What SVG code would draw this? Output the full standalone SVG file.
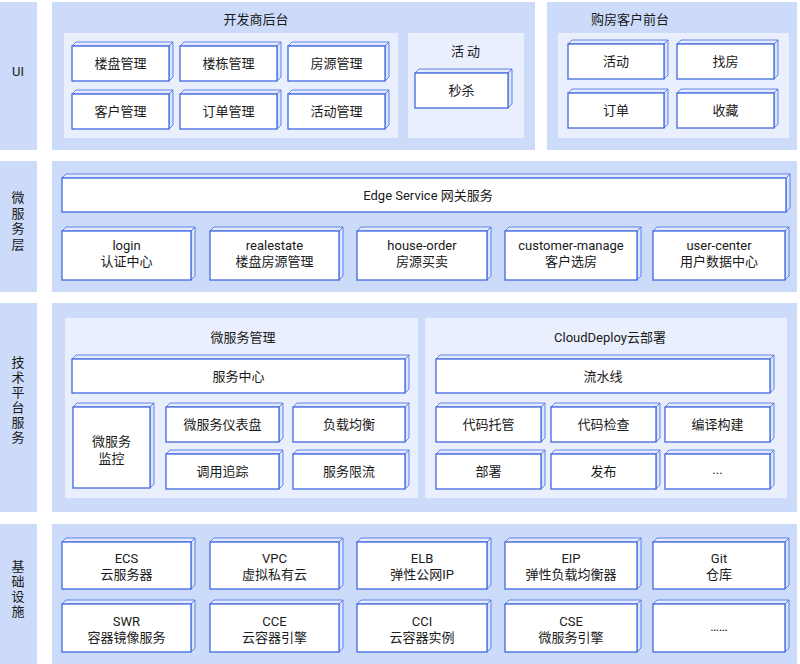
<svg xmlns="http://www.w3.org/2000/svg" width="800" height="664" viewBox="0 0 800 664">
<defs>
<style>
.band{fill:#ccdbf9}
.panel{fill:#e9effd}
.front{fill:#ffffff;stroke:#4169e1;stroke-width:1.3}
.top{fill:#e4ebfd;stroke:#4169e1;stroke-width:0.8}
.side{fill:#dbe5fc;stroke:#4169e1;stroke-width:0.8}
text{font-family:Roboto,"Noto Sans CJK SC",sans-serif;font-size:13px;font-weight:400;fill:#1a1a1a;text-anchor:middle;dominant-baseline:central}
.vt{font-family:"Noto Sans CJK SC",sans-serif;writing-mode:vertical-rl;letter-spacing:2px}
</style>
</defs>
<rect width="800" height="664" fill="#ffffff"/>

<g id="layers">
<rect class="band" x="0" y="2" width="37" height="148"/>
<rect class="band" x="52" y="2" width="483" height="148"/>
<rect class="band" x="547" y="2" width="250" height="148"/>
<rect class="band" x="0" y="161" width="37" height="131"/>
<rect class="band" x="52" y="161" width="745" height="131"/>
<rect class="band" x="0" y="303" width="37" height="209"/>
<rect class="band" x="52" y="303" width="745" height="209"/>
<rect class="band" x="0" y="524" width="37" height="140"/>
<rect class="band" x="52" y="524" width="745" height="140"/>
<rect class="panel" x="64" y="33" width="334" height="105"/>
<rect class="panel" x="408" y="33" width="116" height="105"/>
<rect class="panel" x="558" y="33" width="231" height="105"/>
<rect class="panel" x="65" y="318" width="353" height="180"/>
<rect class="panel" x="425" y="318" width="362" height="180"/>
</g>

<g id="labels">
<text x="18" y="71">UI</text>
<text class="vt" x="18" y="222" style="letter-spacing:2.7px">微服务层</text>
<text class="vt" x="18" y="401">技术平台服务</text>
<text class="vt" x="18" y="590">基础设施</text>
<text x="256" y="19">开发商后台</text>
<text x="467" y="51" letter-spacing="3">活动</text>
<text x="630" y="19">购房客户前台</text>
<text x="243" y="337">微服务管理</text>
<text x="610" y="337">CloudDeploy云部署</text>
</g>

<g id="connectors"></g>

<g id="n-loupan"><polygon class="top" points="72,46 76,42 173,42 169,46"/><polygon class="side" points="169,46 173,42 173,77 169,81"/><rect class="front" x="72" y="46" width="97" height="35"/><text x="120.5" y="63.5">楼盘管理</text></g>
<g id="n-loudong"><polygon class="top" points="180,46 184,42 281,42 277,46"/><polygon class="side" points="277,46 281,42 281,77 277,81"/><rect class="front" x="180" y="46" width="97" height="35"/><text x="228.5" y="63.5">楼栋管理</text></g>
<g id="n-fangyuan"><polygon class="top" points="288,46 292,42 389,42 385,46"/><polygon class="side" points="385,46 389,42 389,77 385,81"/><rect class="front" x="288" y="46" width="97" height="35"/><text x="336.5" y="63.5">房源管理</text></g>
<g id="n-kehu"><polygon class="top" points="72,94 76,90 173,90 169,94"/><polygon class="side" points="169,94 173,90 173,125 169,129"/><rect class="front" x="72" y="94" width="97" height="35"/><text x="120.5" y="111.5">客户管理</text></g>
<g id="n-dingdan"><polygon class="top" points="180,94 184,90 281,90 277,94"/><polygon class="side" points="277,94 281,90 281,125 277,129"/><rect class="front" x="180" y="94" width="97" height="35"/><text x="228.5" y="111.5">订单管理</text></g>
<g id="n-huodong"><polygon class="top" points="288,94 292,90 389,90 385,94"/><polygon class="side" points="385,94 389,90 389,125 385,129"/><rect class="front" x="288" y="94" width="97" height="35"/><text x="336.5" y="111.5">活动管理</text></g>
<g id="n-miaosha"><polygon class="top" points="415,73 419,69 512,69 508,73"/><polygon class="side" points="508,73 512,69 512,104 508,108"/><rect class="front" x="415" y="73" width="93" height="35"/><text x="461.5" y="90.5">秒杀</text></g>
<g id="n-c-huodong"><polygon class="top" points="568,44 572,40 668,40 664,44"/><polygon class="side" points="664,44 668,40 668,75 664,79"/><rect class="front" x="568" y="44" width="96" height="35"/><text x="616" y="61.5">活动</text></g>
<g id="n-zhaofang"><polygon class="top" points="677,44 681,40 778,40 774,44"/><polygon class="side" points="774,44 778,40 778,75 774,79"/><rect class="front" x="677" y="44" width="97" height="35"/><text x="725.5" y="61.5">找房</text></g>
<g id="n-c-dingdan"><polygon class="top" points="568,93 572,89 668,89 664,93"/><polygon class="side" points="664,93 668,89 668,124 664,128"/><rect class="front" x="568" y="93" width="96" height="35"/><text x="616" y="110.5">订单</text></g>
<g id="n-shoucang"><polygon class="top" points="677,93 681,89 778,89 774,93"/><polygon class="side" points="774,93 778,89 778,124 774,128"/><rect class="front" x="677" y="93" width="97" height="35"/><text x="725.5" y="110.5">收藏</text></g>

<g id="n-edge"><polygon class="top" points="62,178 66,174 790,174 786,178"/><polygon class="side" points="786,178 790,174 790,208 786,212"/><rect class="front" x="62" y="178" width="724" height="34"/><text x="428" y="195">Edge Service 网关服务</text></g>
<g id="n-login"><polygon class="top" points="62,231 66,227 195,227 191,231"/><polygon class="side" points="191,231 195,227 195,276 191,280"/><rect class="front" x="62" y="231" width="129" height="49"/><text x="126.5" y="245">login<tspan x="126.5" dy="16">认证中心</tspan></text></g>
<g id="n-realestate"><polygon class="top" points="210,231 214,227 343,227 339,231"/><polygon class="side" points="339,231 343,227 343,276 339,280"/><rect class="front" x="210" y="231" width="129" height="49"/><text x="274.5" y="245">realestate<tspan x="274.5" dy="16">楼盘房源管理</tspan></text></g>
<g id="n-houseorder"><polygon class="top" points="357,231 361,227 491,227 487,231"/><polygon class="side" points="487,231 491,227 491,276 487,280"/><rect class="front" x="357" y="231" width="130" height="49"/><text x="422" y="245">house-order<tspan x="422" dy="16">房源买卖</tspan></text></g>
<g id="n-customer"><polygon class="top" points="505,231 509,227 641,227 637,231"/><polygon class="side" points="637,231 641,227 641,276 637,280"/><rect class="front" x="505" y="231" width="132" height="49"/><text x="571" y="245">customer-manage<tspan x="571" dy="16">客户选房</tspan></text></g>
<g id="n-usercenter"><polygon class="top" points="653,231 657,227 789,227 785,231"/><polygon class="side" points="785,231 789,227 789,276 785,280"/><rect class="front" x="653" y="231" width="132" height="49"/><text x="719" y="245">user-center<tspan x="719" dy="16">用户数据中心</tspan></text></g>

<g id="n-fuwuzhongxin"><polygon class="top" points="72,359 76,355 409,355 405,359"/><polygon class="side" points="405,359 409,355 409,389 405,393"/><rect class="front" x="72" y="359" width="333" height="34"/><text x="238.5" y="376">服务中心</text></g>
<g id="n-jiankong"><polygon class="top" points="73,407 77,403 154,403 150,407"/><polygon class="side" points="150,407 154,403 154,484 150,488"/><rect class="front" x="73" y="407" width="77" height="81"/><text x="111.5" y="441">微服务<tspan x="111.5" dy="17">监控</tspan></text></g>
<g id="n-yibiaopan"><polygon class="top" points="166,407 170,403 283,403 279,407"/><polygon class="side" points="279,407 283,403 283,438 279,442"/><rect class="front" x="166" y="407" width="113" height="35"/><text x="222.5" y="424">微服务仪表盘</text></g>
<g id="n-zhuizong"><polygon class="top" points="166,454 170,450 283,450 279,454"/><polygon class="side" points="279,454 283,450 283,485 279,489"/><rect class="front" x="166" y="454" width="113" height="35"/><text x="222.5" y="471">调用追踪</text></g>
<g id="n-fuzai"><polygon class="top" points="293,407 297,403 409,403 405,407"/><polygon class="side" points="405,407 409,403 409,438 405,442"/><rect class="front" x="293" y="407" width="112" height="35"/><text x="349" y="424">负载均衡</text></g>
<g id="n-xianliu"><polygon class="top" points="293,454 297,450 409,450 405,454"/><polygon class="side" points="405,454 409,450 409,485 405,489"/><rect class="front" x="293" y="454" width="112" height="35"/><text x="349" y="471">服务限流</text></g>
<g id="n-liushuixian"><polygon class="top" points="436,359 440,355 774,355 770,359"/><polygon class="side" points="770,359 774,355 774,389 770,393"/><rect class="front" x="436" y="359" width="334" height="34"/><text x="603" y="376">流水线</text></g>
<g id="n-tuoguan"><polygon class="top" points="436,407 440,403 545,403 541,407"/><polygon class="side" points="541,407 545,403 545,438 541,442"/><rect class="front" x="436" y="407" width="105" height="35"/><text x="488.5" y="424">代码托管</text></g>
<g id="n-jiancha"><polygon class="top" points="551,407 555,403 660,403 656,407"/><polygon class="side" points="656,407 660,403 660,438 656,442"/><rect class="front" x="551" y="407" width="105" height="35"/><text x="603.5" y="424">代码检查</text></g>
<g id="n-goujian"><polygon class="top" points="665,407 669,403 774,403 770,407"/><polygon class="side" points="770,407 774,403 774,438 770,442"/><rect class="front" x="665" y="407" width="105" height="35"/><text x="717.5" y="424">编译构建</text></g>
<g id="n-bushu"><polygon class="top" points="436,454 440,450 545,450 541,454"/><polygon class="side" points="541,454 545,450 545,485 541,489"/><rect class="front" x="436" y="454" width="105" height="35"/><text x="488.5" y="471">部署</text></g>
<g id="n-fabu"><polygon class="top" points="551,454 555,450 660,450 656,454"/><polygon class="side" points="656,454 660,450 660,485 656,489"/><rect class="front" x="551" y="454" width="105" height="35"/><text x="603.5" y="471">发布</text></g>
<g id="n-more1"><polygon class="top" points="665,454 669,450 774,450 770,454"/><polygon class="side" points="770,454 774,450 774,485 770,489"/><rect class="front" x="665" y="454" width="105" height="35"/><text x="717.5" y="469">...</text></g>

<g id="n-ecs"><polygon class="top" points="62,542 66,538 195,538 191,542"/><polygon class="side" points="191,542 195,538 195,585 191,589"/><rect class="front" x="62" y="542" width="129" height="47"/><text x="126.5" y="558">ECS<tspan x="126.5" dy="16">云服务器</tspan></text></g>
<g id="n-vpc"><polygon class="top" points="210,542 214,538 343,538 339,542"/><polygon class="side" points="339,542 343,538 343,585 339,589"/><rect class="front" x="210" y="542" width="129" height="47"/><text x="274.5" y="558">VPC<tspan x="274.5" dy="16">虚拟私有云</tspan></text></g>
<g id="n-elb"><polygon class="top" points="357,542 361,538 491,538 487,542"/><polygon class="side" points="487,542 491,538 491,585 487,589"/><rect class="front" x="357" y="542" width="130" height="47"/><text x="422" y="558">ELB<tspan x="422" dy="16">弹性公网IP</tspan></text></g>
<g id="n-eip"><polygon class="top" points="505,542 509,538 641,538 637,542"/><polygon class="side" points="637,542 641,538 641,585 637,589"/><rect class="front" x="505" y="542" width="132" height="47"/><text x="571" y="558">EIP<tspan x="571" dy="16">弹性负载均衡器</tspan></text></g>
<g id="n-git"><polygon class="top" points="653,542 657,538 789,538 785,542"/><polygon class="side" points="785,542 789,538 789,585 785,589"/><rect class="front" x="653" y="542" width="132" height="47"/><text x="719" y="558">Git<tspan x="719" dy="16">仓库</tspan></text></g>
<g id="n-swr"><polygon class="top" points="62,604 66,600 195,600 191,604"/><polygon class="side" points="191,604 195,600 195,648 191,652"/><rect class="front" x="62" y="604" width="129" height="48"/><text x="126.5" y="621">SWR<tspan x="126.5" dy="16">容器镜像服务</tspan></text></g>
<g id="n-cce"><polygon class="top" points="210,604 214,600 343,600 339,604"/><polygon class="side" points="339,604 343,600 343,648 339,652"/><rect class="front" x="210" y="604" width="129" height="48"/><text x="274.5" y="621">CCE<tspan x="274.5" dy="16">云容器引擎</tspan></text></g>
<g id="n-cci"><polygon class="top" points="357,604 361,600 491,600 487,604"/><polygon class="side" points="487,604 491,600 491,648 487,652"/><rect class="front" x="357" y="604" width="130" height="48"/><text x="422" y="621">CCI<tspan x="422" dy="16">云容器实例</tspan></text></g>
<g id="n-cse"><polygon class="top" points="505,604 509,600 641,600 637,604"/><polygon class="side" points="637,604 641,600 641,648 637,652"/><rect class="front" x="505" y="604" width="132" height="48"/><text x="571" y="621">CSE<tspan x="571" dy="16">微服务引擎</tspan></text></g>
<g id="n-more2"><polygon class="top" points="653,604 657,600 789,600 785,604"/><polygon class="side" points="785,604 789,600 789,648 785,652"/><rect class="front" x="653" y="604" width="132" height="48"/><text x="719" y="626">……</text></g>
</svg>
